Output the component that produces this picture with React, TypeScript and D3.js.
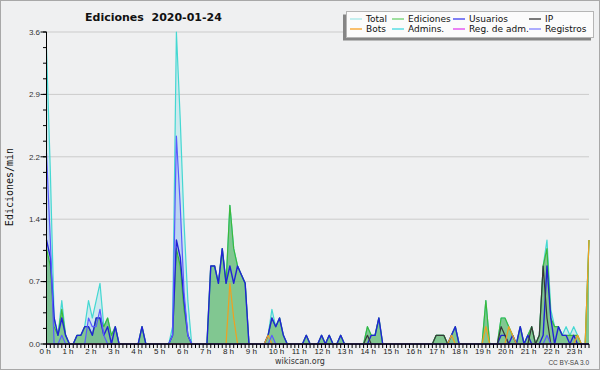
import React, { useEffect, useRef } from 'react';
import * as d3 from 'd3';

// one value per 10 minutes, 00:00 .. 23:40 (edits per minute)
const hourLabels = ['0 h', '1 h', '2 h', '3 h', '4 h', '5 h', '6 h', '7 h', '8 h', '9 h', '10 h', '11 h',
  '12 h', '13 h', '14 h', '15 h', '16 h', '17 h', '18 h', '19 h', '20 h', '21 h', '22 h', '23 h'];
const yTickValues = [0, 0.72, 1.44, 2.16, 2.88, 3.6];
const yTickLabels = ['0.0', '0.7', '1.4', '2.2', '2.9', '3.6'];

const total = [
  3.4, 2.0, 0.3, 0.1, 0.5, 0.1, 0, 0, 0.1, 0.1, 0.2, 0.5, 0.3, 0.5, 0.7, 0.2, 0.3, 0.1, 0.2, 0, 0, 0, 0, 0,
  0, 0.2, 0, 0, 0, 0, 0, 0, 0, 0.2, 3.6, 2.6, 1.4, 0.5, 0, 0, 0, 0, 0, 0.9, 0.9, 0.7, 1.1, 0.7,
  1.6, 1.1, 0.9, 0.8, 0.7, 0, 0, 0, 0, 0, 0.1, 0.4, 0.2, 0.3, 0.1, 0, 0, 0, 0, 0, 0.1, 0, 0, 0,
  0.1, 0, 0.1, 0, 0, 0.1, 0, 0, 0, 0, 0, 0, 0.2, 0.1, 0.1, 0.3, 0, 0, 0, 0, 0, 0, 0, 0,
  0, 0, 0, 0, 0, 0, 0.1, 0.1, 0.1, 0, 0.1, 0.2, 0, 0, 0, 0, 0, 0, 0, 0.5, 0, 0, 0, 0.3,
  0.3, 0.2, 0.1, 0, 0.2, 0, 0.1, 0.2, 0, 0.1, 0.9, 1.2, 0.4, 0.2, 0.2, 0.1, 0.2, 0.1, 0.2, 0.1, 0, 0, 1.2,
];
const ediciones = [
  1.1, 0.9, 0.2, 0.1, 0.4, 0.1, 0, 0, 0.1, 0.1, 0.2, 0.2, 0.1, 0.3, 0.3, 0.2, 0.3, 0.1, 0.2, 0, 0, 0, 0, 0,
  0, 0.2, 0, 0, 0, 0, 0, 0, 0, 0.1, 1.1, 0.9, 0.4, 0.1, 0, 0, 0, 0, 0, 0.9, 0.9, 0.7, 1.1, 0.7,
  1.6, 1.1, 0.9, 0.8, 0.7, 0, 0, 0, 0, 0, 0.1, 0.3, 0.2, 0.3, 0.1, 0, 0, 0, 0, 0, 0.1, 0, 0, 0,
  0.1, 0, 0.1, 0, 0, 0.1, 0, 0, 0, 0, 0, 0, 0.2, 0.1, 0.1, 0.3, 0, 0, 0, 0, 0, 0, 0, 0,
  0, 0, 0, 0, 0, 0, 0.1, 0.1, 0.1, 0, 0.1, 0.2, 0, 0, 0, 0, 0, 0, 0, 0.5, 0, 0, 0, 0.3,
  0.3, 0.2, 0.1, 0, 0.2, 0, 0.1, 0.2, 0, 0.1, 0.9, 1.1, 0.3, 0.2, 0.2, 0.1, 0.1, 0.1, 0.1, 0.1, 0, 0, 1.2,
];
const usuarios = [
  1.2, 1.0, 0.3, 0.1, 0.3, 0.1, 0, 0, 0.1, 0.1, 0.2, 0.2, 0.1, 0.3, 0.3, 0.1, 0.2, 0, 0.2, 0, 0, 0, 0, 0,
  0, 0.2, 0, 0, 0, 0, 0, 0, 0, 0.1, 1.2, 1.0, 0.5, 0.1, 0, 0, 0, 0, 0, 0.9, 0.9, 0.7, 1.1, 0.7,
  0.9, 0.7, 0.9, 0.8, 0.7, 0, 0, 0, 0, 0, 0.1, 0.3, 0.2, 0.3, 0.1, 0, 0, 0, 0, 0, 0.1, 0, 0, 0,
  0.1, 0, 0.1, 0, 0, 0.1, 0, 0, 0, 0, 0, 0, 0, 0.1, 0.1, 0.3, 0, 0, 0, 0, 0, 0, 0, 0,
  0, 0, 0, 0, 0, 0, 0, 0, 0, 0, 0.1, 0.2, 0, 0, 0, 0, 0, 0, 0, 0, 0, 0, 0, 0.1,
  0.1, 0, 0.1, 0, 0.2, 0, 0.1, 0, 0, 0, 0.1, 0.9, 0.3, 0, 0.2, 0.1, 0.1, 0, 0.1, 0, 0, 0, 0,
];
const ip = [
  0, 0, 0, 0, 0, 0, 0, 0, 0, 0, 0, 0, 0, 0, 0, 0, 0, 0, 0, 0, 0, 0, 0, 0,
  0, 0, 0, 0, 0, 0, 0, 0, 0, 0, 0, 0, 0, 0, 0, 0, 0, 0, 0, 0, 0, 0, 0, 0,
  0, 0, 0, 0, 0, 0, 0, 0, 0, 0, 0, 0, 0, 0, 0, 0, 0, 0, 0, 0, 0, 0, 0, 0,
  0, 0, 0, 0, 0, 0, 0, 0, 0, 0, 0, 0, 0.1, 0, 0, 0, 0, 0, 0, 0, 0, 0, 0, 0,
  0, 0, 0, 0, 0, 0, 0.1, 0.1, 0.1, 0, 0, 0, 0, 0, 0, 0, 0, 0, 0, 0, 0, 0, 0, 0.2,
  0.1, 0, 0, 0, 0, 0, 0, 0.2, 0, 0.1, 0.9, 0.3, 0, 0, 0, 0, 0, 0, 0, 0, 0, 0, 0,
];
const bots = [
  0, 0, 0, 0, 0, 0, 0, 0, 0, 0, 0, 0, 0, 0, 0, 0, 0, 0, 0, 0, 0, 0, 0, 0,
  0, 0, 0, 0, 0, 0, 0, 0, 0, 0, 0, 0, 0, 0, 0, 0, 0, 0, 0, 0, 0, 0, 0, 0,
  0.7, 0.3, 0, 0, 0, 0, 0, 0, 0, 0, 0.1, 0, 0, 0, 0, 0, 0, 0, 0, 0, 0, 0, 0, 0,
  0, 0, 0, 0, 0, 0, 0, 0, 0, 0, 0, 0, 0, 0, 0, 0, 0, 0, 0, 0, 0, 0, 0, 0,
  0, 0, 0, 0, 0, 0, 0, 0, 0, 0, 0.1, 0, 0, 0, 0, 0, 0, 0, 0, 0.2, 0, 0, 0, 0,
  0, 0.2, 0.1, 0, 0, 0, 0, 0, 0, 0, 0, 0, 0, 0, 0, 0, 0, 0, 0, 0.1, 0, 0, 1.2,
];
const admins = [
  0, 0, 0, 0, 0, 0, 0, 0, 0, 0, 0, 0, 0, 0, 0, 0, 0, 0, 0, 0, 0, 0, 0, 0,
  0, 0, 0, 0, 0, 0, 0, 0, 0, 0, 0, 0, 0, 0, 0, 0, 0, 0, 0, 0, 0, 0, 0, 0,
  0, 0, 0, 0, 0, 0, 0, 0, 0, 0, 0, 0, 0, 0, 0, 0, 0, 0, 0, 0, 0, 0, 0, 0,
  0, 0, 0, 0, 0, 0, 0, 0, 0, 0, 0, 0, 0, 0, 0, 0, 0, 0, 0, 0, 0, 0, 0, 0,
  0, 0, 0, 0, 0, 0, 0, 0, 0, 0, 0, 0, 0, 0, 0, 0, 0, 0, 0, 0, 0, 0, 0, 0,
  0, 0, 0, 0, 0, 0, 0, 0, 0, 0, 0, 0, 0, 0, 0, 0, 0, 0, 0, 0, 0, 0, 0,
];
const regAdm = [
  0, 0, 0, 0, 0, 0, 0, 0, 0, 0, 0, 0, 0, 0, 0, 0, 0, 0, 0, 0, 0, 0, 0, 0,
  0, 0, 0, 0, 0, 0, 0, 0, 0, 0, 0, 0, 0, 0, 0, 0, 0, 0, 0, 0, 0, 0, 0, 0,
  0, 0, 0, 0, 0, 0, 0, 0, 0, 0, 0, 0, 0, 0, 0, 0, 0, 0, 0, 0, 0, 0, 0, 0,
  0, 0, 0, 0, 0, 0, 0, 0, 0, 0, 0, 0, 0, 0, 0, 0, 0, 0, 0, 0, 0, 0, 0, 0,
  0, 0, 0, 0, 0, 0, 0, 0, 0, 0, 0, 0, 0, 0, 0, 0, 0, 0, 0, 0, 0, 0, 0, 0,
  0, 0, 0, 0, 0, 0, 0, 0, 0, 0, 0, 0, 0, 0, 0, 0, 0, 0, 0, 0, 0, 0, 0,
];
const registros = [
  2.2, 1.2, 0, 0, 0.1, 0, 0, 0, 0, 0, 0, 0.3, 0.2, 0.2, 0.4, 0.1, 0, 0, 0, 0, 0, 0, 0, 0,
  0, 0, 0, 0, 0, 0, 0, 0, 0, 0.1, 2.4, 1.6, 0.6, 0.1, 0, 0, 0, 0, 0, 0, 0, 0, 0, 0,
  0, 0, 0, 0, 0, 0, 0, 0, 0, 0, 0, 0.1, 0, 0, 0, 0, 0, 0, 0, 0, 0, 0, 0, 0,
  0, 0, 0, 0, 0, 0, 0, 0, 0, 0, 0, 0, 0, 0, 0, 0, 0, 0, 0, 0, 0, 0, 0, 0,
  0, 0, 0, 0, 0, 0, 0, 0, 0, 0, 0, 0, 0, 0, 0, 0, 0, 0, 0, 0, 0, 0, 0, 0,
  0, 0, 0, 0, 0, 0, 0, 0, 0, 0, 0, 0.1, 0, 0, 0, 0, 0, 0, 0, 0, 0, 0, 0,
];

const legendRows = [
  [{ name: 'Total', color: '#a6e8e8' }, { name: 'Ediciones', color: '#6cd06c' },
   { name: 'Usuarios', color: '#3c3cf0' }, { name: 'IP', color: '#333333' }],
  [{ name: 'Bots', color: '#f8a020' }, { name: 'Admins.', color: '#40d8e0' },
   { name: 'Reg. de adm.', color: '#e040f0' }, { name: 'Registros', color: '#8080ff' }],
];

const App: React.FC = () => {
  const chartRef = useRef<SVGSVGElement | null>(null);

  useEffect(() => {
    if (!chartRef.current) return;
    const svg = d3.select(chartRef.current);
    svg.selectAll('*').remove();
    const width = 600;
    const height = 370;

    const x = d3.scaleLinear().domain([0, total.length - 1]).range([46.5, 589]);
    const y = d3.scaleLinear().domain([0, 3.6]).range([344, 32]);

    svg.append('rect').attr('width', width).attr('height', height).attr('fill', '#eff0f1');

    // grid
    svg.append('g').selectAll('line')
      .data(yTickValues.slice(1))
      .enter().append('line')
      .attr('x1', x(0)).attr('x2', x(total.length - 1))
      .attr('y1', d => y(d)).attr('y2', d => y(d))
      .attr('stroke', '#cbcbcb');

    const area = d3.area<number>().x((_, i) => x(i)).y0(y(0)).y1(d => y(d));
    const line = d3.line<number>().x((_, i) => x(i)).y(d => y(d));

    const fills: [number[], string][] = [
      [total, 'rgba(120, 215, 230, 0.28)'],
      [registros, 'rgba(110, 110, 255, 0.16)'],
      [ediciones, 'rgba(60, 168, 60, 0.52)'],
    ];
    fills.forEach(([vals, color]) => {
      svg.append('path').attr('d', area(vals)).attr('fill', color);
    });

    const lines: [number[], string, number][] = [
      [total, '#44d8d2', 1.2],
      [ediciones, '#3cb83c', 1.2],
      [usuarios, '#2222d6', 1.4],
      [ip, '#383838', 1.2],
      [bots, '#f0a020', 1.2],
      [admins, '#38d0e0', 1.2],
      [regAdm, '#e040e0', 1.2],
      [registros, '#5a5aff', 1.2],
    ];
    lines.forEach(([vals, color, w]) => {
      svg.append('path').attr('d', line(vals)).attr('fill', 'none')
        .attr('stroke', color).attr('stroke-width', w).attr('stroke-linejoin', 'round');
    });

    // y axis
    const yAxis = svg.append('g');
    yAxis.append('line').attr('x1', x(0)).attr('x2', x(0)).attr('y1', y(3.6)).attr('y2', y(0))
      .attr('stroke', '#000');
    yAxis.selectAll('.minor').data(d3.range(0, 3.6 + 1e-9, 0.18)).enter().append('line')
      .attr('x1', x(0) - 3.5).attr('x2', x(0)).attr('y1', d => y(d)).attr('y2', d => y(d))
      .attr('stroke', '#000');
    yAxis.selectAll('.major').data(yTickValues).enter().append('line')
      .attr('x1', x(0) - 6).attr('x2', x(0)).attr('y1', d => y(d)).attr('y2', d => y(d))
      .attr('stroke', '#000');
    yAxis.selectAll('text').data(yTickValues).enter().append('text')
      .attr('x', x(0) - 6.5).attr('y', d => y(d)).attr('dy', '0.35em')
      .attr('text-anchor', 'end').attr('font-family', 'Liberation Sans, sans-serif')
      .attr('font-size', 8).attr('fill', '#333')
      .text((_, i) => yTickLabels[i]);

    // x axis
    const xAxis = svg.append('g');
    xAxis.selectAll('line.tick').data(d3.range(total.length)).enter().append('line')
      .attr('x1', d => x(d)).attr('x2', d => x(d)).attr('y1', y(0)).attr('y2', y(0) + 4)
      .attr('stroke', '#000');
    xAxis.append('line').attr('x1', x(0)).attr('x2', x(total.length - 1))
      .attr('y1', y(0)).attr('y2', y(0)).attr('stroke', '#000').attr('stroke-width', 1.5);
    xAxis.selectAll('text').data(hourLabels).enter().append('text')
      .attr('x', (_, h) => x(h * 6) - 7).attr('y', 353.5)
      .attr('font-family', 'Liberation Sans, sans-serif').attr('font-size', 8).attr('fill', '#222')
      .text(d => d);

    // title & axis label
    svg.append('text').attr('x', 85).attr('y', 20.5)
      .attr('font-family', 'DejaVu Sans, sans-serif').attr('font-size', 11).attr('font-weight', 'bold')
      .style('white-space', 'pre').attr('fill', '#111')
      .text('Ediciones  2020-01-24');
    svg.append('text').attr('transform', 'translate(13,187) rotate(-90)')
      .attr('text-anchor', 'middle').attr('font-family', 'DejaVu Sans Mono, monospace')
      .attr('font-size', 10).attr('fill', '#111').text('Ediciones/min');

    // legend
    const lg = svg.append('g');
    lg.append('rect').attr('x', 343).attr('y', 14.5).attr('width', 248).attr('height', 26).attr('fill', '#858585');
    lg.append('rect').attr('x', 346.5).attr('y', 11.5).attr('width', 247).attr('height', 26)
      .attr('fill', '#fbfbfb').attr('stroke', '#b5b5b5');
    const colX = [350, 392, 453, 529];
    legendRows.forEach((row, r) => {
      row.forEach((item, c) => {
        const ly = 19 + r * 10;
        lg.append('line').attr('x1', colX[c]).attr('x2', colX[c] + 12).attr('y1', ly).attr('y2', ly)
          .attr('stroke', item.color).attr('stroke-width', 1.3);
        lg.append('text').attr('x', colX[c] + 16).attr('y', ly + 3.3)
          .attr('font-family', 'DejaVu Sans, sans-serif').attr('font-size', 9).attr('fill', '#111')
          .text(item.name);
      });
    });

    // footer
    svg.append('text').attr('x', 300).attr('y', 364).attr('text-anchor', 'middle')
      .attr('font-family', 'DejaVu Sans, sans-serif').attr('font-size', 8).attr('fill', '#333')
      .text('wikiscan.org');
    svg.append('text').attr('x', 589).attr('y', 365).attr('text-anchor', 'end')
      .attr('font-family', 'Liberation Sans, sans-serif').attr('font-size', 6.5).attr('fill', '#444')
      .text('CC BY-SA 3.0');

    svg.append('rect').attr('x', 0.5).attr('y', 0.5).attr('width', width - 1).attr('height', height - 1)
      .attr('fill', 'none').attr('stroke', '#a8a8a8');
  }, []);

  return (
    <div style={{ position: 'absolute', left: 0, top: 0 }}>
      <svg ref={chartRef} width={600} height={370} />
    </div>
  );
};

export default App;
